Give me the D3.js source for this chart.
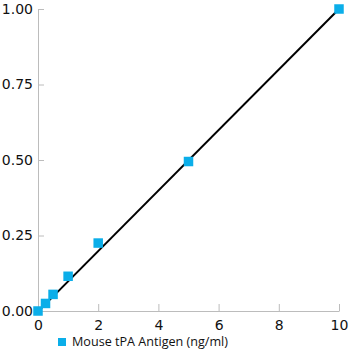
<!DOCTYPE html>
<html><head><meta charset="utf-8">
<script src="https://cdn.jsdelivr.net/npm/d3@7/dist/d3.min.js"></script>
<style>html,body{margin:0;padding:0;background:#fff;}</style>
</head><body>
<svg id="c" width="360" height="360"></svg>
<script>
const xValues = [0, 0.25, 0.5, 1, 2, 5, 10];
const yValues = [0.0, 0.025, 0.055, 0.115, 0.225, 0.495, 1.0];
const xTicks = [0, 2, 4, 6, 8, 10];
const yTicks = [0, 0.25, 0.5, 0.75, 1.0];
const fitX = [0, 10];
const fitY = [-0.002, 1.0];
const seriesName = "Mouse tPA Antigen (ng/ml)";

const svg = d3.select("#c");
const x = d3.scaleLinear().domain([0, 10]).range([38, 339]);
const y = d3.scaleLinear().domain([0, 1]).range([311, 9]);
const axisColor = "#bcbcbc";
const font = "'DejaVu Sans', sans-serif";

const gx = svg.append("g").attr("transform", "translate(0,311)")
  .call(d3.axisBottom(x).tickValues(xTicks).tickFormat(d3.format("d")).tickSizeInner(-7).tickSizeOuter(0).tickPadding(6));
gx.select(".domain").attr("stroke", axisColor);
gx.selectAll(".tick line").attr("stroke", axisColor);
gx.selectAll("text").attr("font-family", font).attr("font-size", 14).attr("fill", "#111").attr("dy", "0.95em");

const gy = svg.append("g").attr("transform", "translate(38,0)")
  .call(d3.axisLeft(y).tickValues(yTicks).tickFormat(d3.format(".2f")).tickSizeInner(-6).tickSizeOuter(0).tickPadding(5));
gy.select(".domain").attr("stroke", axisColor);
gy.selectAll(".tick line").attr("stroke", axisColor);
gy.selectAll("text").attr("font-family", font).attr("font-size", 14).attr("fill", "#111").attr("x", -5);

svg.append("line")
  .attr("x1", x(fitX[0])).attr("y1", y(fitY[0]))
  .attr("x2", x(fitX[1])).attr("y2", y(fitY[1]))
  .attr("stroke", "#000").attr("stroke-width", 2);

const s = 9.5;
svg.append("g").selectAll("rect").data(xValues).join("rect")
  .attr("x", (d) => x(d) - s/2)
  .attr("y", (d, i) => y(yValues[i]) - s/2)
  .attr("width", s).attr("height", s)
  .attr("fill", "#0baee9");

const lg = svg.append("g");
lg.append("rect").attr("x", 58).attr("y", 338).attr("width", 8).attr("height", 8).attr("fill", "#0baee9");
lg.append("text").attr("x", 72).attr("y", 346).attr("font-family", "'Open Sans', sans-serif")
  .attr("font-size", 12.6).attr("fill", "#111").text(seriesName);
</script>
</body></html>
